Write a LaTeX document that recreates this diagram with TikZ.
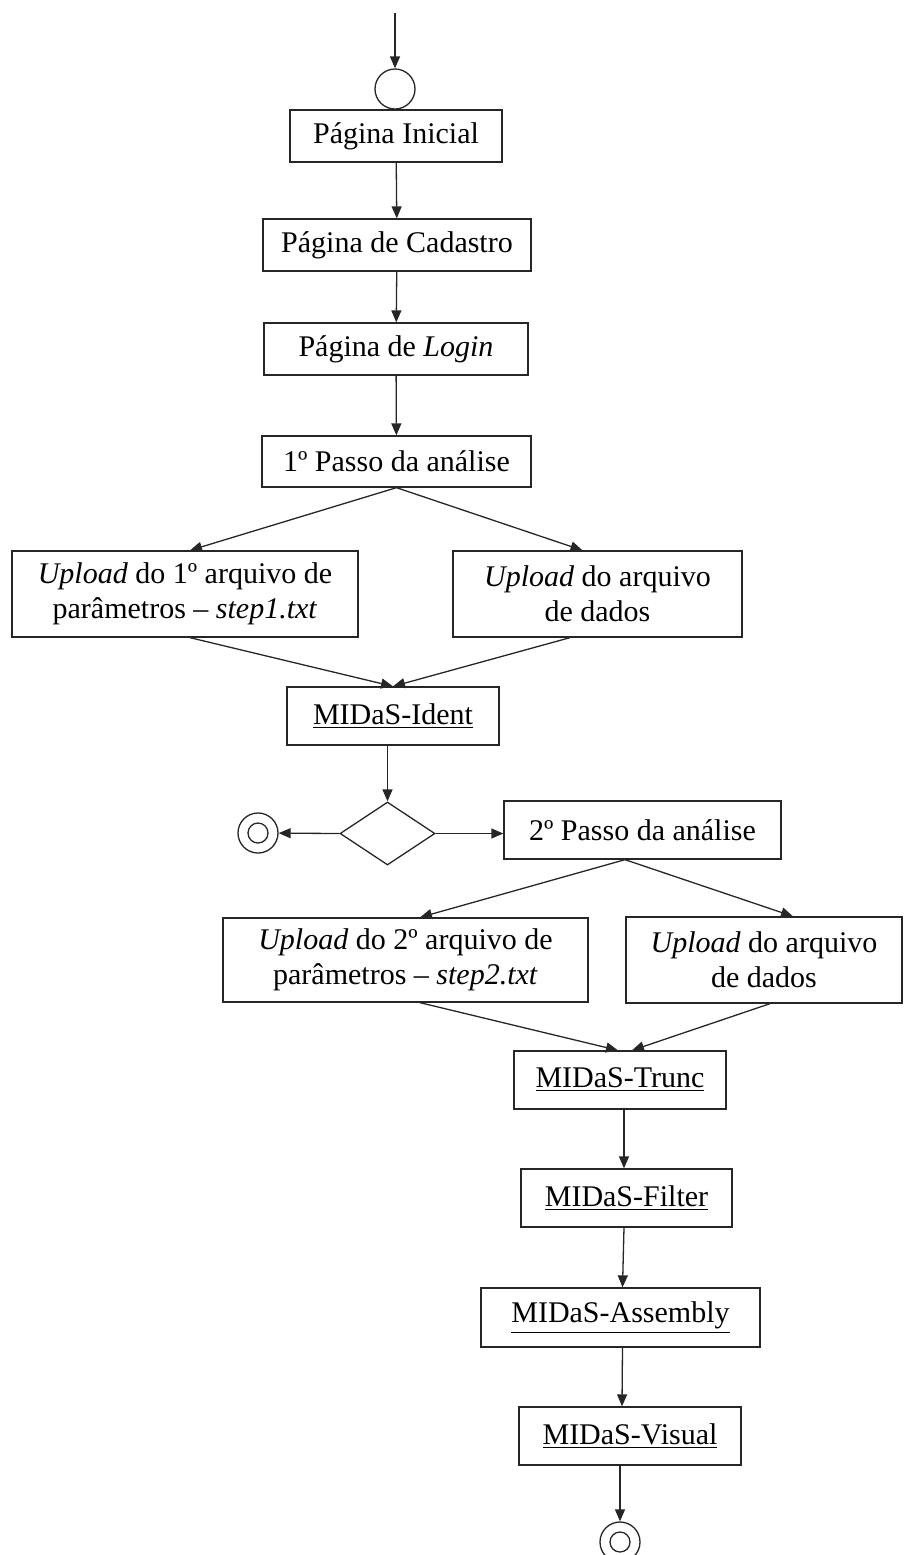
\documentclass[tikz,border=0pt]{standalone}
\usepackage{fontspec}
\setmainfont{Liberation Serif}
\usepackage{tikz}
\usetikzlibrary{shapes.geometric,arrows.meta}

\begin{document}
\begin{tikzpicture}[x=0.5pt, y=-0.5pt,
    >={Triangle[length=6pt,width=5pt]},
    linha/.style={draw=black!85, line width=0.65pt},
    caixa/.style={linha, rectangle, inner sep=0pt, align=center,
        font=\fontsize{15}{17.5}\selectfont},
    inicial/.style={linha, circle, inner sep=0pt, minimum size=20pt},
    fim/.style={linha, circle, inner sep=0pt, minimum size=20pt,
        path picture={\draw[black!85, line width=0.65pt]
            (path picture bounding box.center) circle (5pt);}},
    losango/.style={linha, diamond, inner sep=0pt,
        minimum width=47.5pt, minimum height=31.5pt}]

    % Margens
    \useasboundingbox (0,0) rectangle (904,1555);

    % Inicio
    \coordinate (topo) at (395,13);
    \node[inicial] (inicio) at (395,89) {};

    % Paginas
    \node[caixa, minimum width=106pt, minimum height=26pt] (ini) at (396,136) {Página Inicial};
    \node[caixa, minimum width=134pt, minimum height=26pt] (cad) at (397,245) {Página de Cadastro};
    \node[caixa, minimum width=132pt, minimum height=26pt] (login) at (396,349) {Página de \textit{Login}};
    \node[caixa, minimum width=134.5pt, minimum height=25.5pt] (passo1) at (396.5,461.5) {1º Passo da análise};

    % Primeiro passo
    \node[caixa, minimum width=173pt, minimum height=43pt] (up1) at (185,594)
        {\textit{Upload} do 1º arquivo de\\parâmetros -- \textit{step1.txt}};
    \node[caixa, minimum width=144.5pt, minimum height=43pt] (dados1) at (597.5,594)
        {\textit{Upload} do arquivo\\de dados};
    \node[caixa, minimum width=106pt, minimum height=29pt] (ident) at (393,716) {\underline{MIDaS-Ident}};

    % Decisao
    \node[losango] (decisao) at (387.5,833.5) {};
    \node[fim] (fim1) at (258,833) {};

    % Segundo passo
    \node[caixa, minimum width=138.5pt, minimum height=29pt] (passo2) at (642.5,830) {2º Passo da análise};
    \node[caixa, minimum width=182.5pt, minimum height=42pt] (up2) at (405.5,960)
        {\textit{Upload} do 2º arquivo de\\parâmetros -- \textit{step2.txt}};
    \node[caixa, minimum width=138pt, minimum height=43pt] (dados2) at (764,960)
        {\textit{Upload} do arquivo\\de dados};

    % Modulos
    \node[caixa, minimum width=106pt, minimum height=29pt] (trunc) at (620,1080) {\underline{MIDaS-Trunc}};
    \node[caixa, minimum width=105.5pt, minimum height=29pt] (filter) at (626.5,1198) {\underline{MIDaS-Filter}};
    \node[caixa, minimum width=139.5pt, minimum height=29.5pt] (assembly) at (620.5,1317.5) {\underline{MIDaS-Assembly}};
    \node[caixa, minimum width=111pt, minimum height=29pt] (visual) at (630,1436) {\underline{MIDaS-Visual}};
    \node[fim] (fim2) at (620,1542) {};

    % Setas
    \draw[linha, ->] (topo) -- (inicio);
    \draw[linha, ->] (ini) -- (cad);
    \draw[linha, ->] (cad) -- (login);
    \draw[linha, ->] (login) -- (passo1);
    \draw[linha, ->] (passo1.south) -- ([xshift=2.5pt]up1.north);
    \draw[linha, ->] (passo1.south) -- ([xshift=-7.5pt]dados1.north);
    \draw[linha, ->] ([xshift=2.5pt]up1.south) -- (ident.north);
    \draw[linha, ->] ([xshift=-13.75pt]dados1.south) -- (ident.north);
    \draw[linha, ->] (ident.south -| decisao.north) -- (decisao.north);
    \draw[linha, ->] (decisao.west) -- (fim1);
    \draw[linha, ->] (decisao.east) -- (passo2.west |- decisao.east);
    \draw[linha, ->] ([xshift=-8.75pt]passo2.south) -- ([xshift=7.25pt]up2.north);
    \draw[linha, ->] ([xshift=-8.75pt]passo2.south) -- ([xshift=14.5pt]dados2.north);
    \draw[linha, ->] ([xshift=7.25pt]up2.south) -- ([xshift=-1pt]trunc.north);
    \draw[linha, ->] ([xshift=3pt]dados2.south) -- ([xshift=6pt]trunc.north);
    \draw[linha, ->] ([xshift=2pt]trunc.south) -- ([xshift=-1.25pt]filter.north);
    \draw[linha, ->] ([xshift=-1.25pt]filter.south) -- ([xshift=1pt]assembly.north);
    \draw[linha, ->] ([xshift=1pt]assembly.south) -- ([xshift=-4pt]visual.north);
    \draw[linha, ->] ([xshift=-5pt]visual.south) -- (fim2);
\end{tikzpicture}
\end{document}
